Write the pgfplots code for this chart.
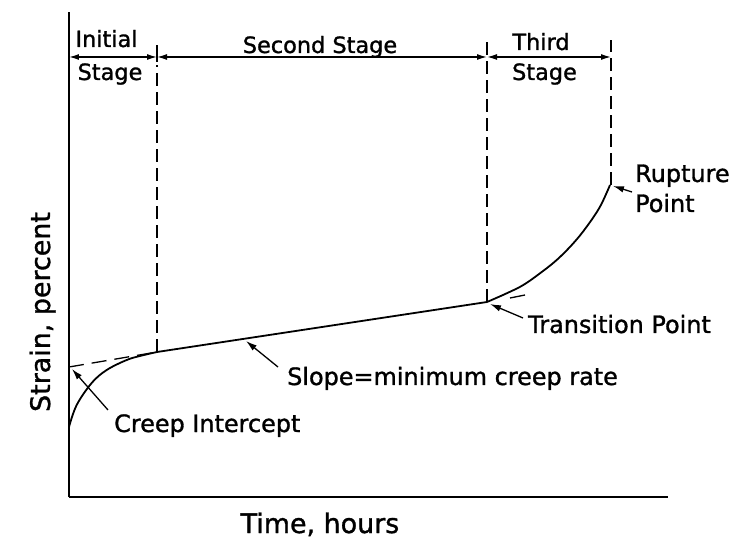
\documentclass[border=0pt]{standalone}
\usepackage{pgfplots}
\pgfplotsset{compat=1.18}
\usetikzlibrary{arrows.meta}
\usepackage{fontspec}
\setmainfont{DejaVu Sans}[FakeBold=1.2]

% creep curve (x = px-69, y = 497-py)
\pgfplotstableread{
x y
0 70
7.7 92
22.7 114
37.7 127
57.7 137
71 141
88 145
}\primary
\pgfplotstableread{
x y
88 145
418 195
}\secondary
\pgfplotstableread{
x y
418 195
437.7 203.7
454.3 212
471 223.7
487.7 237
504.3 253.7
517.7 270.3
531 290.3
541 312
}\tertiary

\tikzset{
  big/.style={inner sep=0pt, font=\fontsize{24}{28}\selectfont},
  small/.style={inner sep=0pt, font=\fontsize{22.5}{26}\selectfont},
  huge/.style={inner sep=0pt, font=\fontsize{27}{32}\selectfont},
  tip/.style={-{Latex[length=11bp,width=6.5bp]}, line width=1.3bp},
  span/.style={{Latex[length=10bp,width=6bp]}-{Latex[length=10bp,width=6bp]}, line width=1.4bp},
}

\begin{document}
\begin{tikzpicture}
\useasboundingbox (-69bp,-49bp) rectangle (673bp,497bp);
\begin{axis}[
  at={(0,0)}, anchor=south west,
  width=599bp, height=485bp, scale only axis,
  xmin=0, xmax=599, ymin=0, ymax=485,
  axis lines=left, axis line style={-, line width=1.6bp},
  ticks=none, clip=false,
]
  % the curve
  \addplot[black, line width=1.8bp, smooth, tension=0.6] table {\primary};
  \addplot[black, line width=1.8bp] table {\secondary};
  \addplot[black, line width=1.8bp, smooth, tension=0.6] table {\tertiary};

  % stage boundaries
  \addplot[black, line width=1.3bp, dash pattern=on 13bp off 6bp] coordinates {(88,145) (88,432)};
  \addplot[black, line width=1.3bp, dash pattern=on 13bp off 6bp] coordinates {(418,195) (418,457)};
  \addplot[black, line width=1.3bp, dash pattern=on 13bp off 6bp] coordinates {(542,312) (542,457)};
  \addplot[black, line width=1.3bp] coordinates {(88,435) (88,452)};

  % creep intercept and extension of the straight part
  \addplot[black, line width=1.3bp, dash pattern=on 15bp off 8bp] coordinates {(0,130) (88,145)};
  \addplot[black, line width=1.3bp] coordinates {(441,199) (456,202)};

  % stage arrows
  \draw[span] (axis cs:0,440) -- (axis cs:88,440);
  \draw[span] (axis cs:88,440) -- (axis cs:418,440);
  \draw[span] (axis cs:418,440) -- (axis cs:542,440);

  \node[small, anchor=base] at (axis cs:37.5,450) {Initial};
  \node[small, anchor=base] at (axis cs:41,417) {Stage};
  \node[small, anchor=base] at (axis cs:251,444) {Second Stage};
  \node[small, anchor=base] at (axis cs:472,447) {Third};
  \node[small, anchor=base] at (axis cs:475.5,417) {Stage};

  % annotations
  \draw[tip] (axis cs:39,87) -- (axis cs:3,128);
  \node[big, anchor=base west] at (axis cs:45,65) {Creep Intercept};
  \draw[tip] (axis cs:209,130) -- (axis cs:177,156);
  \node[big, anchor=base west] at (axis cs:218,112) {Slope=minimum creep rate};
  \draw[tip] (axis cs:454,179) -- (axis cs:421,193);
  \node[big, anchor=base west] at (axis cs:459,164) {Transition Point};
  \draw[tip] (axis cs:563,305) -- (axis cs:544,311);
  \node[big, anchor=base west] at (axis cs:566,315) {Rupture};
  \node[big, anchor=base west] at (axis cs:566,285) {Point};

  % axis labels
  \node[huge, anchor=base] at (axis cs:251,-36) {Time, hours};
  \node[huge, anchor=base, rotate=90] at (axis cs:-19,185) {Strain, percent};
\end{axis}
\end{tikzpicture}
\end{document}
